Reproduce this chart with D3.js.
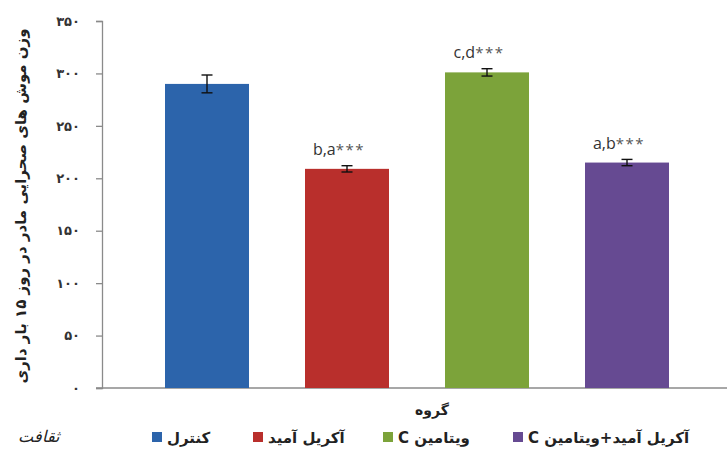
<!DOCTYPE html>
<html>
<head>
<meta charset="utf-8">
<script src="https://cdn.jsdelivr.net/npm/d3@7"></script>
<style>
  html, body { margin: 0; padding: 0; background: #fff; }
  svg { display: block; }
</style>
</head>
<body>
<script>
// Group names (Persian) and their bar colours
const groups = ["کنترل", "آکریل آمید", "ویتامین C", "آکریل آمید+ویتامین C"];
const colors = ["#2c64ab", "#b92f2c", "#7ca33a", "#664a92"];
// Mean body weight and standard error per group
const means = [290, 209, 301, 215];
const errors = [8.5, 3, 3.5, 3];
// Significance annotations above bars
const marks = ["", "b,a", "c,d", "a,b"];
const stars = ["", "***", "***", "***"];
// Y-axis ticks
const yTicks = [0, 50, 100, 150, 200, 250, 300, 350];

const W = 727, H = 455;
const faDigits = n => String(n).replace(/\d/g, d => "۰۱۲۳۴۵۶۷۸۹"[d]);

const svg = d3.select("body").append("svg").attr("width", W).attr("height", H);

const x = d3.scaleBand().domain(groups).range([137, 697]).paddingInner(0.4).paddingOuter(0.2);
const y = d3.scaleLinear().domain([0, 350]).range([388, 21]);

// Y axis
const yAxis = d3.axisLeft(y).tickValues(yTicks).tickSize(6).tickPadding(16).tickFormat(faDigits);
const gy = svg.append("g").attr("transform", "translate(102,0)").call(yAxis);
gy.select(".domain").attr("stroke", "#8a8a8a").attr("stroke-width", 1.3);
gy.selectAll(".tick line").attr("stroke", "#8a8a8a").attr("stroke-width", 1.3);
gy.selectAll(".tick text")
  .attr("font-family", "DejaVu Sans, sans-serif")
  .attr("font-size", 13).attr("font-weight", "bold").attr("fill", "#333");

// X axis baseline
svg.append("line")
  .attr("x1", 96).attr("x2", W).attr("y1", y(0)).attr("y2", y(0))
  .attr("stroke", "#8a8a8a").attr("stroke-width", 1.3);

// Bars
svg.selectAll("rect.bar").data(groups).join("rect")
  .attr("class", "bar")
  .attr("x", d => x(d))
  .attr("width", x.bandwidth())
  .attr("y", (d, i) => y(means[i]))
  .attr("height", (d, i) => y(0) - y(means[i]))
  .attr("fill", (d, i) => colors[i]);

// Error bars
const eb = svg.append("g").attr("stroke", "#111").attr("stroke-width", 1.4);
groups.forEach((g, i) => {
  const cx = x(g) + x.bandwidth() / 2;
  const cap = 5.5;
  eb.append("line").attr("x1", cx).attr("x2", cx)
    .attr("y1", y(means[i] + errors[i])).attr("y2", y(means[i] - errors[i]));
  eb.append("line").attr("x1", cx - cap).attr("x2", cx + cap)
    .attr("y1", y(means[i] + errors[i])).attr("y2", y(means[i] + errors[i]));
  eb.append("line").attr("x1", cx - cap).attr("x2", cx + cap)
    .attr("y1", y(means[i] - errors[i])).attr("y2", y(means[i] - errors[i]));
});

// Significance labels
const ml = svg.selectAll("text.mark").data(groups).join("text")
  .attr("class", "mark")
  .attr("x", d => x(d) + x.bandwidth() / 2 - 8)
  .attr("y", (d, i) => y(means[i]) - 14)
  .attr("text-anchor", "middle")
  .attr("font-family", "Open Sans, sans-serif")
  .attr("font-size", 16)
  .attr("fill", "#333");
ml.append("tspan").text((d, i) => marks[i]);
ml.append("tspan").attr("letter-spacing", 1.5).attr("font-size", 15).attr("fill", "#555")
  .text((d, i) => stars[i]);

// Y-axis title
svg.append("text")
  .attr("transform", "translate(26,206) rotate(-90)")
  .attr("text-anchor", "middle")
  .attr("direction", "rtl")
  .attr("font-family", "DejaVu Sans, sans-serif")
  .attr("font-size", 15).attr("font-weight", "bold").attr("fill", "#222")
  .text("وزن موش های صحرایی مادر در روز ۱۵ بار داری");

// X-axis title
svg.append("text")
  .attr("x", 432).attr("y", 415)
  .attr("text-anchor", "middle")
  .attr("font-family", "DejaVu Sans, sans-serif")
  .attr("font-size", 14).attr("font-weight", "bold").attr("fill", "#222")
  .text("گروه");

// Legend: square on the left, right-to-left label beside it
const legendX = [152, 253, 383, 513];
const lg = svg.append("g");
groups.forEach((g, i) => {
  lg.append("rect").attr("x", legendX[i]).attr("y", 432).attr("width", 10).attr("height", 10)
    .attr("fill", colors[i]);
  lg.append("text")
    .attr("x", legendX[i] + 15).attr("y", 443)
    .attr("direction", "rtl")
    .attr("text-anchor", "end")
    .attr("font-family", "DejaVu Sans, sans-serif")
    .attr("font-size", 15).attr("font-weight", "bold").attr("fill", "#222")
    .text(g);
});

// Calligraphic mark in the corner
svg.append("text")
  .attr("x", 38).attr("y", 442)
  .attr("text-anchor", "middle")
  .attr("font-family", "DejaVu Serif, serif")
  .attr("font-style", "italic")
  .attr("font-size", 16).attr("fill", "#222")
  .text("ثقافت");
</script>
</body>
</html>
